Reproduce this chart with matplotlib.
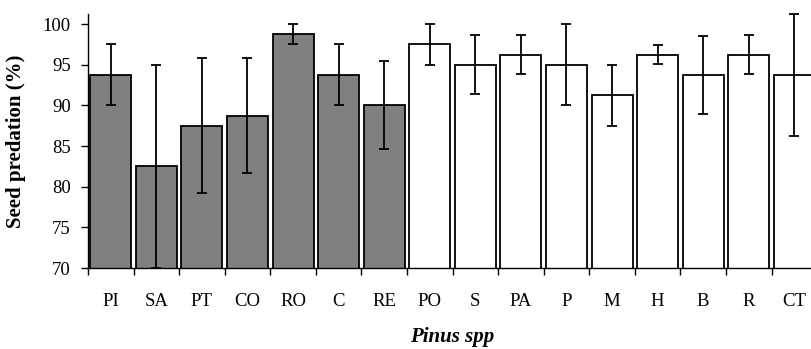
import matplotlib.pyplot as plt
import numpy as np

# data
species = ['PI', 'SA', 'PT', 'CO', 'RO', 'C', 'RE', 'PO', 'S', 'PA', 'P', 'M', 'H', 'B', 'R', 'CT']
predation = [93.75, 82.5, 87.5, 88.75, 98.75, 93.75, 90.0, 97.5, 95.0, 96.25, 95.0, 91.25, 96.25, 93.75, 96.25, 93.75]
errors = [3.75, 12.5, 8.3, 7.1, 1.25, 3.75, 5.4, 2.5, 3.6, 2.4, 5.0, 3.75, 1.2, 4.8, 2.4, 7.5]
n_grey = 7  # first seven species drawn grey

plt.rcParams['font.family'] = ['Liberation Serif', 'DejaVu Serif']

fig = plt.figure(figsize=(8.11, 3.49), dpi=100)
ax = fig.add_axes([0.1085, 0.232, 0.899, 0.727])

x = np.arange(len(species))
colors = ['#808080'] * n_grey + ['white'] * (len(species) - n_grey)
ax.bar(x, predation, width=0.9, color=colors, edgecolor='black', linewidth=1.3, zorder=2)
ax.errorbar(x, predation, yerr=errors, fmt='none', ecolor='black', elinewidth=1.3,
            capsize=3.8, capthick=1.3, zorder=3, clip_on=False)

ax.set_xlim(-0.5, len(species) - 0.5)
ax.set_ylim(70, 101.2)
ax.set_yticks(np.arange(70, 101, 5))

# labels at bar centres, tick marks at category boundaries
ax.set_xticks(x)
ax.set_xticklabels(species)
ax.set_xticks(np.arange(-0.5, len(species), 1), minor=True)
ax.tick_params(axis='x', which='major', length=0, pad=18, labelsize=13.5)
ax.tick_params(axis='x', which='minor', length=5, width=1, direction='out')
ax.tick_params(axis='y', which='major', length=5, width=1, labelsize=13.5, pad=7.5)

ax.spines['top'].set_visible(False)
ax.spines['right'].set_visible(False)
ax.spines['left'].set_linewidth(1)
ax.spines['bottom'].set_linewidth(1)

ax.set_ylabel('Seed predation (%)', fontsize=15, fontweight='bold')
ax.set_xlabel('Pinus spp', fontsize=15, fontweight='bold', fontstyle='italic')
ax.yaxis.set_label_coords(-0.085, 0.5)
ax.xaxis.set_label_coords(0.5, -0.232)

fig.savefig('out.png', dpi=100)
